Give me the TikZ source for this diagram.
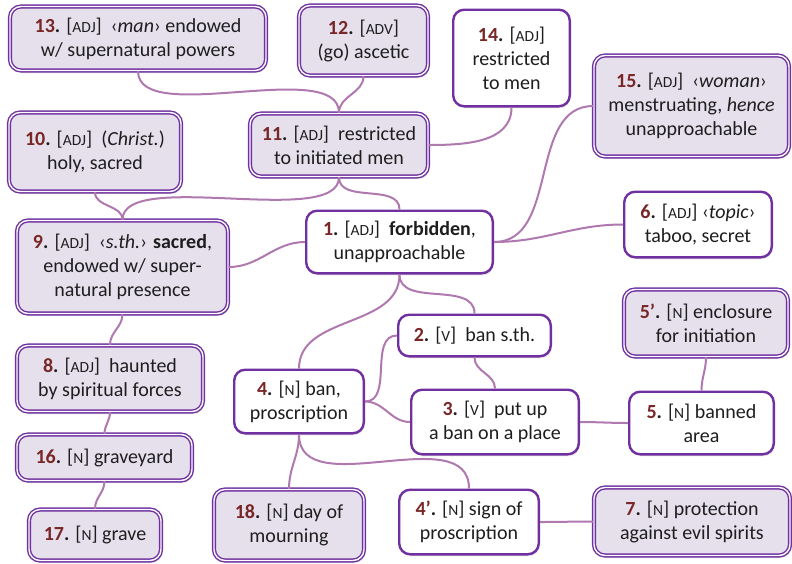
\documentclass[tikz,border=0pt]{standalone}
\usepackage{fontspec}
\setmainfont{Carlito}
\usetikzlibrary{shadows}
\definecolor{bpurple}{RGB}{112,48,160}
\definecolor{lav}{RGB}{230,224,237}
\definecolor{connc}{RGB}{175,120,175}
\definecolor{numred}{RGB}{120,38,38}
\definecolor{txt}{RGB}{30,30,30}
\newcommand\nb[1]{\textbf{\textcolor{numred}{#1}.}}
\newcommand\tg[1]{[{\fontsize{15.5}{15.5}\selectfont #1}]}
\begin{document}
\begin{tikzpicture}[x=1pt,y=-1pt,
  base/.style={rounded corners=11pt, align=center, inner sep=0pt, text=txt,
    font=\fontsize{20}{24}\selectfont},
  plainbox/.style={base, draw=bpurple, line width=2.4pt, fill=white,
    drop shadow={shadow xshift=1pt, shadow yshift=-2pt, opacity=0.18}},
  sacredbox/.style={base, draw=bpurple, line width=1.4pt, double=white,
    double distance=1.4pt, fill=lav,
    drop shadow={shadow xshift=1.5pt, shadow yshift=-2.5pt, opacity=0.22}},
  link/.style={draw=connc, line width=2pt}]
\useasboundingbox (0,0) rectangle (792,563);

\node[sacredbox, minimum width=256, minimum height=64] (n13) at (138,38.5)
  {\nb{13} \tg{ADJ}\ \ ‹\textit{man}› endowed\\ w/ supernatural powers};
\node[sacredbox, minimum width=129, minimum height=70] (n12) at (363.5,40.5)
  {\nb{12} \tg{ADV}\\ (go) ascetic};
\node[plainbox, minimum width=116.6, minimum height=96.6] (n14) at (511.5,58)
  {\nb{14} \tg{ADJ}\\ restricted\\ to men};
\node[sacredbox, minimum width=178, minimum height=63] (n11) at (339,145)
  {\nb{11} \tg{ADJ}\ \ restricted\\ to initiated men};
\node[sacredbox, minimum width=195, minimum height=101] (n15) at (691.5,106)
  {\nb{15} \tg{ADJ}\ \ ‹\textit{woman}›\\ menstruating, \textit{hence}\\ unapproachable};
\node[sacredbox, minimum width=172, minimum height=79] (n10) at (95,152)
  {\nb{10} \tg{ADJ}\ \ (\textit{Christ.})\\ holy, sacred};
\node[plainbox, minimum width=147.6, minimum height=65.6] (n6) at (698,224.5)
  {\nb{6} \tg{ADJ} ‹\textit{topic}›\\ taboo, secret};
\node[plainbox, minimum width=186.6, minimum height=62.6] (n1) at (399.5,242)
  {\nb{1} \tg{ADJ}\ \ \textbf{forbidden},\\ unapproachable};
\node[sacredbox, minimum width=211, minimum height=93] (n9) at (122.5,267)
  {\nb{9} \tg{ADJ}\ \ ‹\textit{s.th.}› \textbf{sacred},\\ endowed w/ super-\\ natural presence};
\node[plainbox, minimum width=152.6, minimum height=41.6] (n2) at (474.5,335.5)
  {\nb{2} \tg{V}\ \ ban s.th.};
\node[sacredbox, minimum width=164, minimum height=67] (n5p) at (706,323)
  {\nb{5’} \tg{N} enclosure\\ for initiation};
\node[sacredbox, minimum width=186, minimum height=66] (n8) at (110,378.5)
  {\nb{8} \tg{ADJ}\ \ haunted\\ by spiritual forces};
\node[plainbox, minimum width=129.6, minimum height=63.6] (n4) at (299,401.5)
  {\nb{4} \tg{N} ban,\\ proscription};
\node[plainbox, minimum width=167.6, minimum height=64.6] (n3) at (495,422)
  {\nb{3} \tg{V}\ \ put up\\ a ban on a place};
\node[plainbox, minimum width=144.6, minimum height=62.6] (n5) at (701.5,423)
  {\nb{5} \tg{N} banned\\ area};
\node[sacredbox, minimum width=175, minimum height=46] (n16) at (104.5,457.5)
  {\nb{16} \tg{N} graveyard};
\node[sacredbox, minimum width=132, minimum height=51] (n17) at (95,535)
  {\nb{17} \tg{N} grave};
\node[sacredbox, minimum width=150, minimum height=71] (n18) at (289,525)
  {\nb{18} \tg{N} day of\\ mourning};
\node[plainbox, minimum width=139.6, minimum height=64.6] (n4p) at (469,522)
  {\nb{4’} \tg{N} sign of\\ proscription};
\node[sacredbox, minimum width=196, minimum height=68] (n7) at (692,521.5)
  {\nb{7} \tg{N} protection\\ against evil spirits};

\draw[link] (n13.south) to[out=-90,in=90,looseness=0.7] (n11.north);
\draw[link] (n12.south) to[out=-90,in=90] (n11.north);
\draw[link] (n14.south) to[out=-90,in=0] (n11.east);
\draw[link] (n10.south) to[out=-90,in=90] (n9.north);
\draw[link] (n11.south) to[out=-90,in=90,looseness=0.6] (n9.north);
\draw[link] (n11.south) to[out=-90,in=90] (n1.north);
\draw[link] (n15.west) to[out=180,in=0] (n1.east);
\draw[link] (n6.west) to[out=180,in=0] (n1.east);
\draw[link] (n9.east) to[out=0,in=180] (n1.west);
\draw[link] (n9.south) to[out=-90,in=90] (n8.north);
\draw[link] (n1.south) to[out=-90,in=90] (n2.north);
\draw[link] (n1.south) to[out=-90,in=90] (n4.north);
\draw[link] (n4.east) to[out=0,in=180] (n2.west);
\draw[link] (n4.east) to[out=0,in=180] (n3.west);
\draw[link] (n2.south) to[out=-90,in=90] (n3.north);
\draw[link] (n3.east) to[out=0,in=180] (n5.west);
\draw[link] (n5p.south) to[out=-90,in=90] (n5.north);
\draw[link] (n4.south) to[out=-90,in=90] (n18.north);
\draw[link] (n4.south) to[out=-90,in=90] (n4p.north);
\draw[link] (n4p.east) to[out=0,in=180] (n7.west);
\draw[link] (n8.south) to[out=-90,in=90] (n16.north);
\draw[link] (n16.south) to[out=-90,in=90] (n17.north);
\end{tikzpicture}
\end{document}
